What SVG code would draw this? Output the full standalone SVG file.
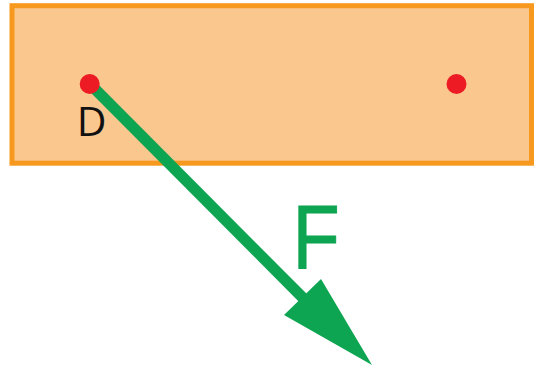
<svg xmlns="http://www.w3.org/2000/svg" width="534" height="372" viewBox="0 0 534 372">
<style>.pt{fill:#ed1c24}.lb{font-family:"Open Sans","Liberation Sans",sans-serif}</style>
<rect width="534" height="372" fill="#fff"/>
<g id="plate"><rect x="12" y="5.7" width="519.5" height="157.5" fill="#fac78f" stroke="#f7981f" stroke-width="5"/></g>
<g id="connectors">
<line x1="90" y1="84" x2="310" y2="305" stroke="#0ea552" stroke-width="11"/>
<polygon points="372,365 284,315 321,279" fill="#0ea552"/>
</g>
<g id="point-d"><circle class="pt" cx="89.7" cy="84" r="10"/><text class="lb" x="91.5" y="136" font-size="41" text-anchor="middle" fill="#111">D</text></g>
<g id="point-right"><circle class="pt" cx="456.5" cy="84" r="10"/></g>
<g id="force-label"><text transform="translate(292.5 268) scale(.85 1)" x="0" y="0" font-family="Liberation Sans, sans-serif" font-size="91" fill="#0ea552" stroke="#0ea552" stroke-width="1">F</text></g>
</svg>
